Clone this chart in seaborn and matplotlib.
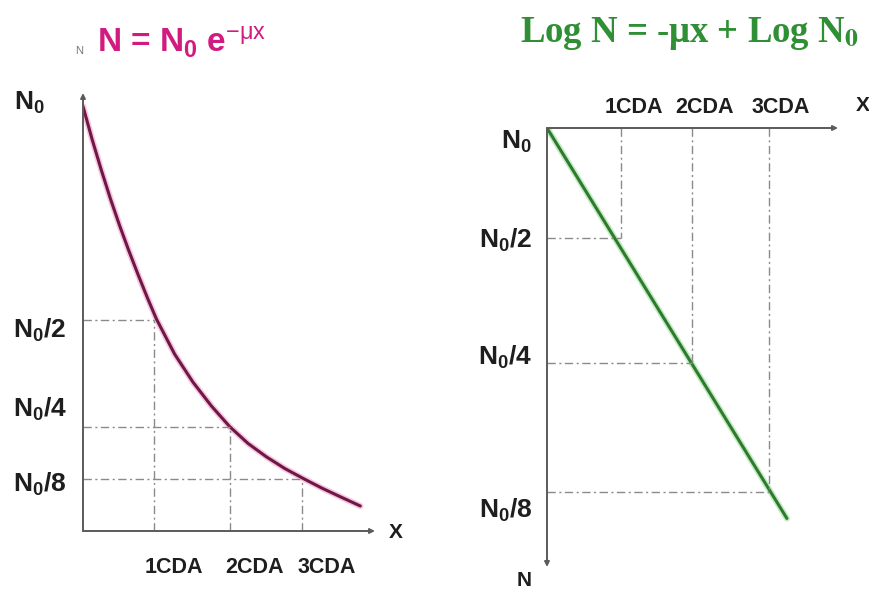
import matplotlib
matplotlib.use("Agg")
import matplotlib.pyplot as plt
import seaborn as sns
import pandas as pd

# ---------------- data ----------------
# Left panel: N/N0 versus thickness x (in CDA units)
curve_x = [0.0, 0.125, 0.25, 0.375, 0.5, 0.625, 0.75, 0.875, 1.0, 1.25, 1.5, 1.75,
           2.0, 2.25, 2.5, 2.75, 3.0, 3.25, 3.5, 3.78]
curve_y = [0.985, 0.908, 0.837, 0.770, 0.708, 0.650, 0.595, 0.542, 0.492, 0.410, 0.345,
           0.290, 0.242, 0.203, 0.172, 0.145, 0.122, 0.100, 0.080, 0.058]
left_cda_x = [0.97, 2.0, 2.99]
left_levels = [0.49, 0.242, 0.12]
cda_labels = ["1CDA", "2CDA", "3CDA"]
level_labels = [r"N$_\mathbf{0}$/2", r"N$_\mathbf{0}$/4", r"N$_\mathbf{0}$/8"]

# Right panel: log2(N/N0) versus thickness x (in CDA units)
line_x = [0.0, 3.24]
line_y = [0.0, -3.2]
right_cda_x = [1.0, 1.96, 3.0]
right_levels = [-0.90, -1.93, -2.98]

# ---------------- style ----------------
sns.set_theme(style="white")
plt.rcParams["font.family"] = ["Liberation Sans", "DejaVu Sans"]
plt.rcParams["mathtext.fontset"] = "custom"
plt.rcParams["mathtext.rm"] = "Liberation Sans"
plt.rcParams["mathtext.bf"] = "Liberation Sans:bold"
plt.rcParams["mathtext.it"] = "Liberation Sans:italic"

W, H = 870, 593
fig = plt.figure(figsize=(W / 100, H / 100), dpi=100)
fig.patch.set_facecolor("white")


def fx(x):
    return x / W


def fy(y):
    return 1 - y / H


def ptext(x, y, s, **kw):
    fig.text(fx(x), fy(y), s, **kw)


AX_COL = "#5a5a5a"
DASH_COL = "#8a8a8a"
DASH = (0, (6, 2.5, 1.5, 2.5))
LBL_COL = "#1e1e1e"

# ---------------- left panel ----------------
ax1 = fig.add_axes([fx(83), fy(531), (375 - 83) / W, (531 - 93) / H])
ax1.set_xlim(0, 3.98)
ax1.set_ylim(0, 1.016)
ax1.axis("off")

df_curve = pd.DataFrame({"x": curve_x, "y": curve_y})
sns.lineplot(data=df_curve, x="x", y="y", ax=ax1, color="#f2a0c8", lw=4.5,
             alpha=0.6, sort=False, legend=False)
sns.lineplot(data=df_curve, x="x", y="y", ax=ax1, color="#6e1848", lw=2.2,
             sort=False, legend=False)

for cx, lv in zip(left_cda_x, left_levels):
    ax1.plot([0, cx], [lv, lv], color=DASH_COL, lw=1.0, ls=DASH)
    ax1.plot([cx, cx], [0, lv], color=DASH_COL, lw=1.0, ls=DASH)

ax1.annotate("", xy=(3.98, 0), xytext=(0, 0),
             arrowprops=dict(arrowstyle="-|>", color=AX_COL, lw=1.4,
                             mutation_scale=7, shrinkA=0, shrinkB=0),
             annotation_clip=False)
ax1.annotate("", xy=(0, 1.016), xytext=(0, 0),
             arrowprops=dict(arrowstyle="-|>", color=AX_COL, lw=1.4,
                             mutation_scale=7, shrinkA=0, shrinkB=0),
             annotation_clip=False)

# left texts
ptext(75, 54, "N", fontsize=8, color="#777777")
ptext(97, 52, r"N = N$_\mathbf{0}$ e$^{\mathrm{-μx}}$", fontsize=24,
      fontweight="bold", color="#d11b7f", va="baseline")
ptext(14, 110, r"N$_\mathbf{0}$", fontsize=19, fontweight="bold", color=LBL_COL,
      va="baseline")
for yb, s in zip([338, 417, 492], level_labels):
    ptext(13, yb, s, fontsize=19, fontweight="bold", color=LBL_COL, va="baseline")
for xl, s in zip([145, 225, 298], cda_labels):
    ptext(xl, 573, s, fontsize=15.5, fontweight="bold", color=LBL_COL, va="baseline")
ptext(389, 538, "X", fontsize=15, fontweight="bold", color=LBL_COL, va="baseline")

# ---------------- right panel ----------------
ax2 = fig.add_axes([fx(547), fy(567), (838 - 547) / W, (567 - 128) / H])
ax2.set_xlim(0, 3.93)
ax2.set_ylim(-3.598, 0)
ax2.axis("off")

df_line = pd.DataFrame({"x": line_x, "y": line_y})
sns.lineplot(data=df_line, x="x", y="y", ax=ax2, color="#9be09b", lw=4.5,
             alpha=0.6, sort=False, legend=False)
sns.lineplot(data=df_line, x="x", y="y", ax=ax2, color="#2f7a2f", lw=2.2,
             sort=False, legend=False)

for cx, lv in zip(right_cda_x, right_levels):
    ax2.plot([cx, cx], [0, lv], color=DASH_COL, lw=1.0, ls=DASH)
    ax2.plot([0, cx], [lv, lv], color=DASH_COL, lw=1.0, ls=DASH)

ax2.annotate("", xy=(3.93, 0), xytext=(0, 0),
             arrowprops=dict(arrowstyle="-|>", color=AX_COL, lw=1.4,
                             mutation_scale=7, shrinkA=0, shrinkB=0),
             annotation_clip=False)
ax2.annotate("", xy=(0, -3.598), xytext=(0, 0),
             arrowprops=dict(arrowstyle="-|>", color=AX_COL, lw=1.4,
                             mutation_scale=7, shrinkA=0, shrinkB=0),
             annotation_clip=False)

# right texts
ptext(520, 42, r"Log N = -μx + Log N$_\mathbf{0}$", fontsize=26.5,
      fontweight="bold", color="#2e8f34", va="baseline",
      family=["Liberation Serif", "DejaVu Serif"], math_fontfamily="stix")
ptext(532, 149, r"N$_\mathbf{0}$", fontsize=19, fontweight="bold", color=LBL_COL,
      va="baseline", ha="right")
for yb, s in zip([248, 365, 518], level_labels):
    ptext(532, yb, s, fontsize=19, fontweight="bold", color=LBL_COL,
          va="baseline", ha="right")
for xl, s in zip([605, 675, 752], cda_labels):
    ptext(xl, 113, s, fontsize=15.5, fontweight="bold", color=LBL_COL, va="baseline")
ptext(856, 111, "X", fontsize=15, fontweight="bold", color=LBL_COL, va="baseline")
ptext(532, 586, "N", fontsize=15, fontweight="bold", color=LBL_COL,
      va="baseline", ha="right")

fig.savefig("out.png", dpi=100, facecolor="white")
